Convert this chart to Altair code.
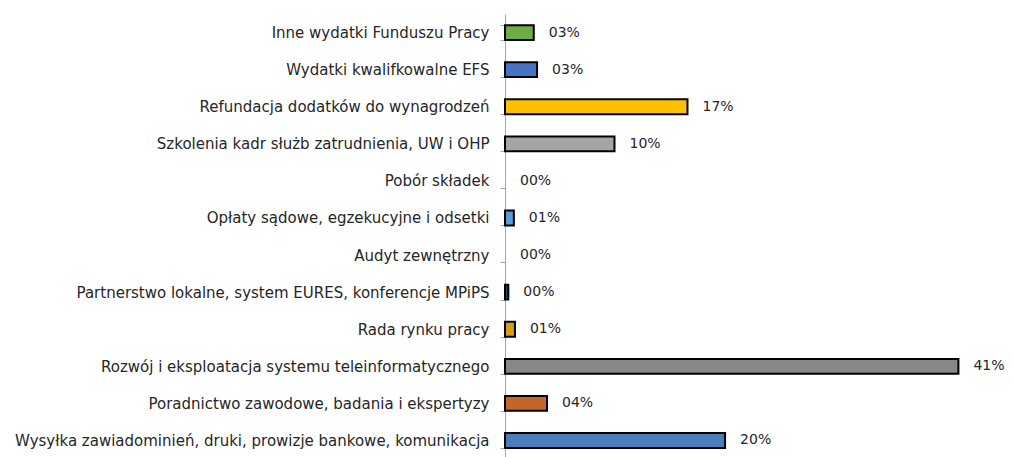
import altair as alt
import pandas as pd

categories = [
    "Inne wydatki Funduszu Pracy",
    "Wydatki kwalifkowalne EFS",
    "Refundacja dodatków do wynagrodzeń",
    "Szkolenia kadr służb zatrudnienia, UW i OHP",
    "Pobór składek",
    "Opłaty sądowe, egzekucyjne i odsetki",
    "Audyt zewnętrzny",
    "Partnerstwo lokalne, system EURES, konferencje MPiPS",
    "Rada rynku pracy",
    "Rozwój i eksploatacja systemu teleinformatycznego",
    "Poradnictwo zawodowe, badania i ekspertyzy",
    "Wysyłka zawiadominień, druki, prowizje bankowe, komunikacja",
]
values = [0.026, 0.029, 0.165, 0.099, 0.0, 0.008, 0.0, 0.003, 0.009, 0.41, 0.038, 0.199]
value_labels = ["03%", "03%", "17%", "10%", "00%", "01%", "00%", "00%", "01%", "41%", "04%", "20%"]
colors = ["#70AD47", "#4472C4", "#FFC000", "#A5A5A5", "#FFFFFF", "#5B9BD5",
          "#FFFFFF", "#264478", "#D4A017", "#878787", "#C6652A", "#4A7EBB"]

df = pd.DataFrame({"cat": categories, "value": values, "label": value_labels, "color": colors})

FONT = "DejaVu Sans"
FS = 15

y_enc = alt.Y("cat:N", sort=categories, title=None,
              scale=alt.Scale(paddingInner=0.6, paddingOuter=0.3),
              axis=alt.Axis(tickBand="extent", domainColor="#A6A6A6", tickColor="#A6A6A6",
                            tickSize=5, labelPadding=11, labelFont=FONT, labelFontSize=FS,
                            labelColor="#262626", labelLimit=600, domainWidth=1))
x_enc = alt.X("value:Q", title=None, scale=alt.Scale(domain=[0, 0.425], nice=False),
              axis=None)

bars = alt.Chart(df).transform_filter("datum.value > 0").mark_bar(
    stroke="black", strokeWidth=2
).encode(x=x_enc, y=y_enc, color=alt.Color("color:N", scale=None))

text = alt.Chart(df).mark_text(align="left", dx=15, font=FONT, fontSize=14,
                               color="#262626").encode(x=x_enc, y=y_enc, text="label:N")

chart = (bars + text).properties(
    width=470, height=445,
    autosize=alt.AutoSizeParams(type="none"),
    padding={"left": 497, "top": 6, "right": 31, "bottom": 6}
).configure_view(stroke=None)

chart.save("out.html", embed_options={"renderer": "svg", "actions": False})
